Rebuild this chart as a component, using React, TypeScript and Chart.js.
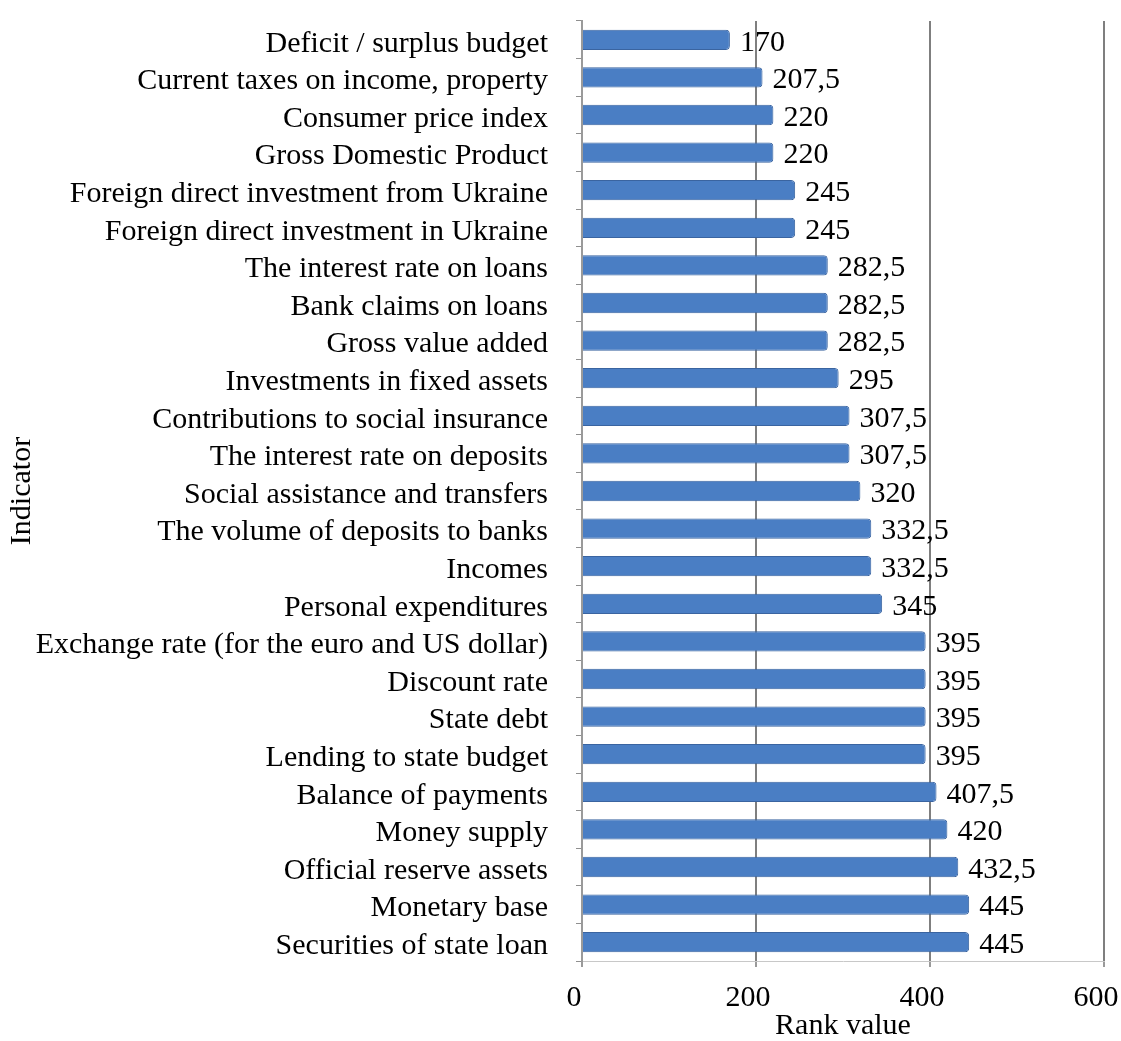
import React, { useEffect, useRef } from "react";
import { Chart, registerables } from "chart.js";

Chart.register(...registerables);

const categories: string[] = [
  "Deficit / surplus budget",
  "Current taxes on income, property",
  "Consumer price index",
  "Gross Domestic Product",
  "Foreign direct investment from Ukraine",
  "Foreign direct investment in Ukraine",
  "The interest rate on loans",
  "Bank claims on loans",
  "Gross value added",
  "Investments in fixed assets",
  "Contributions to social insurance",
  "The interest rate on deposits",
  "Social assistance and transfers",
  "The volume of deposits to banks",
  "Incomes",
  "Personal expenditures",
  "Exchange rate (for the euro and US dollar)",
  "Discount rate",
  "State debt",
  "Lending to state budget",
  "Balance of payments",
  "Money supply",
  "Official reserve assets",
  "Monetary base",
  "Securities of state loan",
];

const rankValues: number[] = [
  170, 207.5, 220, 220, 245, 245, 282.5, 282.5, 282.5, 295, 307.5, 307.5, 320,
  332.5, 332.5, 345, 395, 395, 395, 395, 407.5, 420, 432.5, 445, 445,
];

const xTicks: number[] = [0, 200, 400, 600];

const FONT = "'Liberation Serif', 'Times New Roman', serif";

const valueLabelPlugin = {
  id: "valueLabels",
  afterDatasetsDraw(chart: any) {
    const ctx = chart.ctx;
    const meta = chart.getDatasetMeta(0);
    ctx.save();
    ctx.font = `30px ${FONT}`;
    ctx.fillStyle = "#000";
    ctx.textAlign = "left";
    ctx.textBaseline = "middle";
    meta.data.forEach((bar: any, i: number) => {
      const v = rankValues[i];
      const txt = String(v).replace(".", ",");
      ctx.fillText(txt, bar.x + 10, bar.y + 3);
    });
    ctx.restore();
  },
};

export default function App() {
  const ref = useRef<HTMLCanvasElement | null>(null);

  useEffect(() => {
    document.body.style.margin = "0";
    document.body.style.background = "#fff";
    if (!ref.current) return;
    const chart = new Chart(ref.current, {
      type: "bar",
      data: {
        labels: categories,
        datasets: [
          {
            data: rankValues,
            backgroundColor: (c: any) => {
              const el = c.element;
              const ctx = c.chart.ctx;
              if (!el || el.y === undefined || !el.height) return "#4a7ec4";
              const top = el.y - el.height / 2;
              const g = ctx.createLinearGradient(0, top, 0, top + el.height);
              g.addColorStop(0, "#3d6cb0");
              g.addColorStop(0.35, "#5a8fd6");
              g.addColorStop(0.7, "#4a7ec4");
              g.addColorStop(1, "#36619f");
              return g;
            },
            borderColor: "#3a64a0",
            borderWidth: 1,
            borderRadius: 4,
            borderSkipped: "start",
            categoryPercentage: 1,
            barPercentage: 0.54,
          },
        ],
      },
      options: {
        indexAxis: "y",
        animation: false,
        responsive: false,
        maintainAspectRatio: false,
        layout: { padding: { top: 21, right: 17, bottom: 0, left: 0 } },
        plugins: {
          legend: { display: false },
          tooltip: { enabled: false },
        },
        scales: {
          x: {
            min: 0,
            max: 600,
            afterBuildTicks: (s: any) => {
              s.ticks = xTicks.map((v) => ({ value: v }));
            },
            afterFit: (s: any) => {
              s.paddingRight = 0;
              s.paddingLeft = 0;
              s.height = 80;
            },
            grid: {
              color: (c: any) => (c.tick && c.tick.value === 0 ? "#bdbdbd" : "#7f7f7f"),
              lineWidth: 2,
              drawTicks: true,
              tickLength: 6,
              tickColor: "#9a9a9a",
            },
            border: { display: true, color: "#c8c8c8", width: 1 },
            ticks: {
              color: "#000",
              font: { family: FONT, size: 30, lineHeight: 1 },
              padding: 16,
              maxRotation: 0,
              labelOffset: -8,
            },
            title: {
              display: true,
              text: "Rank value",
              color: "#000",
              font: { family: FONT, size: 30, lineHeight: 1 },
              padding: { top: 0, bottom: 0 },
            },
          },
          y: {
            afterFit: (s: any) => {
              s.width = 582;
              s.paddingTop = 0;
              s.paddingBottom = 0;
            },
            grid: {
              drawOnChartArea: false,
              drawTicks: true,
              tickLength: 6,
              color: "#8f8f8f",
            },
            border: { display: true, color: "#9a9a9a", width: 2 },
            ticks: {
              color: "#000",
              font: { family: FONT, size: 30, lineHeight: 1 },
              padding: 28,
              autoSkip: false,
              labelOffset: 4,
            },
            title: {
              display: true,
              text: "Indicator",
              color: "#000",
              font: { family: FONT, size: 30 },
              padding: { top: 4, bottom: 0 },
            },
          },
        },
      },
      plugins: [valueLabelPlugin],
    });
    return () => chart.destroy();
  }, []);

  return (
    <div style={{ width: 1121, height: 1041 }}>
      <canvas ref={ref} width={1121} height={1041} style={{ display: "block" }} />
    </div>
  );
}
